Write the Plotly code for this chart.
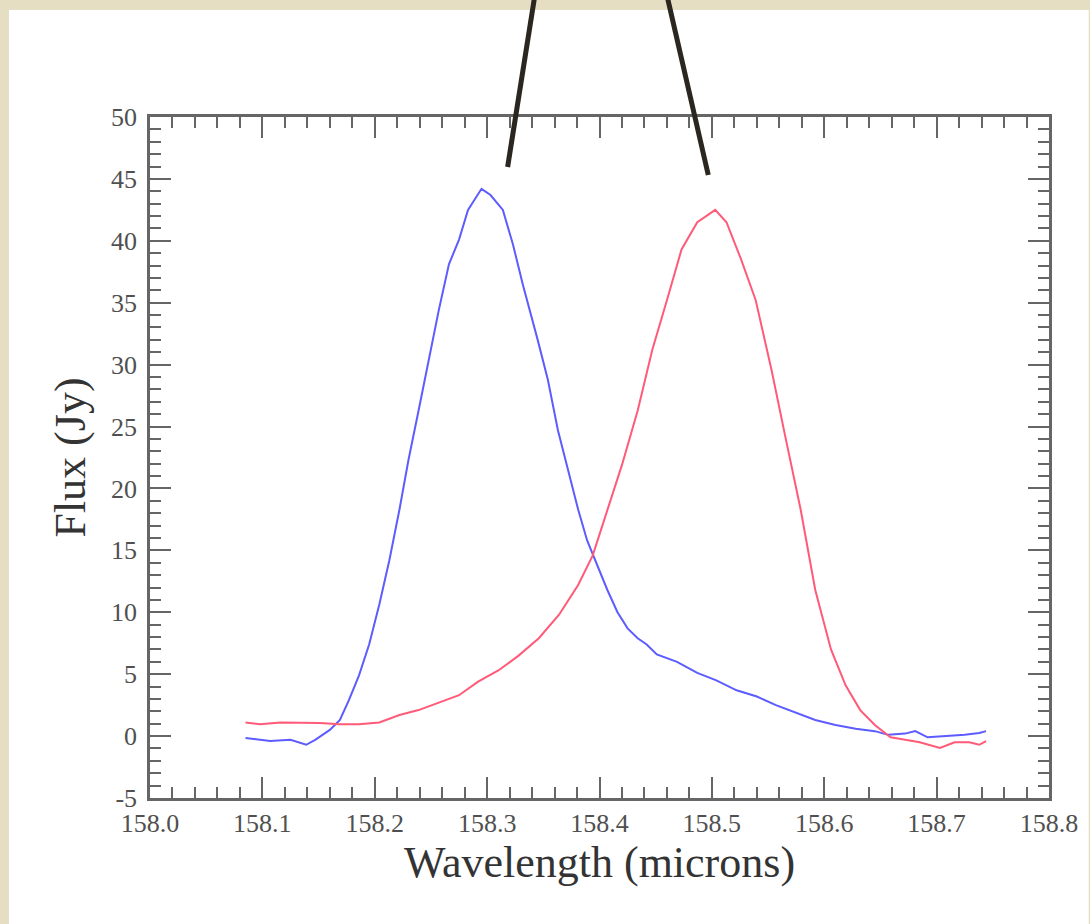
import plotly.graph_objects as go

# ---- data ----
blue_x = [158.085, 158.098, 158.107, 158.125, 158.133, 158.139, 158.147, 158.160, 158.169, 158.177,
          158.186, 158.195, 158.204, 158.213, 158.222, 158.230, 158.239, 158.248, 158.257, 158.266,
          158.275, 158.283, 158.295, 158.303, 158.314, 158.323, 158.332, 158.345, 158.354, 158.363,
          158.372, 158.381, 158.389, 158.398, 158.407, 158.416, 158.425, 158.434, 158.442, 158.451,
          158.469, 158.487, 158.504, 158.522, 158.540, 158.557, 158.575, 158.592, 158.610, 158.628,
          158.645, 158.657, 158.672, 158.681, 158.692, 158.707, 158.725, 158.738, 158.744]
blue_y = [-0.15, -0.3, -0.4, -0.3, -0.55, -0.7, -0.3, 0.5, 1.3, 2.9,
          4.9, 7.4, 10.6, 14.2, 18.3, 22.3, 26.3, 30.4, 34.4, 38.1,
          40.1, 42.5, 44.2, 43.7, 42.5, 39.7, 36.4, 32.0, 28.8, 24.7,
          21.5, 18.3, 15.8, 13.8, 11.8, 10.0, 8.7, 7.9, 7.4, 6.6,
          6.0, 5.1, 4.5, 3.7, 3.2, 2.5, 1.9, 1.3, 0.9, 0.6,
          0.4, 0.1, 0.2, 0.4, -0.1, 0.0, 0.1, 0.25, 0.4]

red_x = [158.085, 158.098, 158.116, 158.133, 158.151, 158.169, 158.186, 158.204, 158.222, 158.239,
         158.257, 158.275, 158.292, 158.310, 158.328, 158.346, 158.364, 158.381, 158.394, 158.407,
         158.420, 158.434, 158.447, 158.460, 158.473, 158.487, 158.503, 158.513, 158.526, 158.539,
         158.553, 158.566, 158.579, 158.592, 158.606, 158.619, 158.632, 158.645, 158.659, 158.672,
         158.685, 158.703, 158.716, 158.729, 158.738, 158.744]
red_y = [1.1, 0.95, 1.1, 1.1, 1.05, 0.95, 0.95, 1.1, 1.7, 2.1,
         2.7, 3.3, 4.4, 5.3, 6.5, 7.9, 9.8, 12.2, 14.6, 18.3,
         21.9, 26.3, 31.2, 35.2, 39.3, 41.5, 42.5, 41.5, 38.5, 35.2,
         29.6, 23.9, 18.3, 11.8, 7.0, 4.1, 2.1, 0.9, -0.1, -0.3,
         -0.5, -0.95, -0.5, -0.5, -0.7, -0.4]

x_ticks = [158.0, 158.1, 158.2, 158.3, 158.4, 158.5, 158.6, 158.7, 158.8]
x_tick_labels = ["158.0", "158.1", "158.2", "158.3", "158.4", "158.5", "158.6", "158.7", "158.8"]
y_ticks = [-5, 0, 5, 10, 15, 20, 25, 30, 35, 40, 45, 50]
y_tick_labels = ["-5", "0", "5", "10", "15", "20", "25", "30", "35", "40", "45", "50"]

# ---- layout geometry (pixels) ----
W, H = 1090, 924
L, R, T, B = 150, 35, 117, 126
pw, ph = W - L - R, H - T - B

def px(x):
    return (x - L) / pw

def py(y):
    return (H - B - y) / ph

fig = go.Figure()
fig.add_trace(go.Scatter(x=blue_x, y=blue_y, mode="lines",
                         line=dict(color="#5c5cff", width=2), showlegend=False))
fig.add_trace(go.Scatter(x=red_x, y=red_y, mode="lines",
                         line=dict(color="#ff5a78", width=2), showlegend=False))

axis_col = "#666666"
serif = "Liberation Serif, Times New Roman, serif"
tickfont = dict(family=serif, size=26, color="#505050")
titlefont = dict(family=serif, size=44, color="#333333")

common = dict(ticks="inside", ticklen=21, tickwidth=2, tickcolor=axis_col,
              showline=True, linecolor=axis_col, linewidth=2.5, mirror="allticks",
              showgrid=False, zeroline=False, tickfont=tickfont, tickmode="array")

fig.update_xaxes(range=[158.0, 158.8], tickvals=x_ticks, ticktext=x_tick_labels,
                 ticklabelstandoff=0,
                 minor=dict(dtick=0.02, tick0=158.0, ticks="inside", ticklen=11, tickwidth=2,
                            tickcolor=axis_col, showgrid=False),
                 title=dict(text="Wavelength (microns)", font=titlefont, standoff=0),
                 **common)
fig.update_yaxes(range=[-5, 50], tickvals=y_ticks, ticktext=y_tick_labels,
                 ticklabelstandoff=5,
                 minor=dict(dtick=1, tick0=0, ticks="inside", ticklen=11, tickwidth=2,
                            tickcolor=axis_col, showgrid=False),
                 title=dict(text="Flux (Jy)", font=titlefont, standoff=12),
                 **common)

shapes = [
    # white slide panel over beige background
    dict(type="rect", xref="paper", yref="paper", x0=px(8), x1=px(W + 5), y0=py(10), y1=py(H + 5),
         fillcolor="white", line=dict(width=0), layer="below"),
    # two dark pointer lines
    dict(type="line", xref="paper", yref="paper", x0=px(510), y0=py(167), x1=px(537), y1=py(-2),
         line=dict(color="#2b2720", width=5)),
    dict(type="line", xref="paper", yref="paper", x0=px(712), y0=py(175), x1=px(671), y1=py(-2),
         line=dict(color="#2b2720", width=5)),
]

fig.update_layout(width=W, height=H, margin=dict(l=L, r=R, t=T, b=B),
                  paper_bgcolor="#e6dec2", plot_bgcolor="white",
                  shapes=shapes, showlegend=False)

fig.write_html("out.html", config=dict(displayModeBar=False),
               post_script="document.body.style.margin='0';document.body.style.overflow='hidden';")
